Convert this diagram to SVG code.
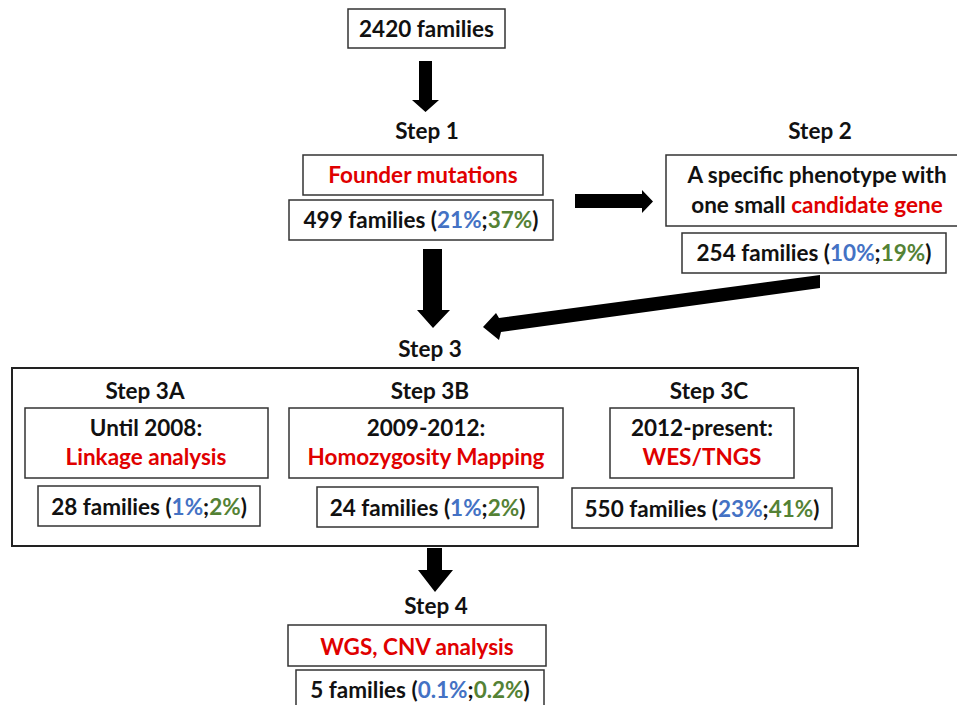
<svg xmlns="http://www.w3.org/2000/svg" width="957" height="705" viewBox="0 0 957 705">
<style>
text{font-family:Lato,"Open Sans","Liberation Sans",sans-serif;font-weight:bold;font-size:22.5px;fill:#111;text-anchor:middle}
.r{fill:#e00000}
.b{fill:#4472c4}
.g{fill:#548235}
.box{fill:#fff;stroke:#333;stroke-width:1.5}
.big{fill:none;stroke:#222;stroke-width:2}
.arr{fill:#000}
</style>
<rect width="957" height="705" fill="#fff"/>
<g id="connectors">
<polygon class="arr" points="419,61 432,61 432,100 439,100 425.5,112 412,100 419,100"/>
<polygon class="arr" points="575,194 642,194 642,190 653,201.5 642,213 642,208 575,208"/>
<polygon class="arr" points="423,249 442,249 442,310 450,310 433,328 417,310 423,310"/>
<polygon class="arr" points="820,275 820,288 501,332 499,340 483,327 496,313 499,318"/>
<polygon class="arr" points="427,548 442,548 442,570 453,570 435,592 418,570 427,570"/>
</g>
<g id="n2420">
<rect class="box" x="348" y="9" width="157" height="39"/>
<text x="426.5" y="37">2420 families</text>
</g>
<g id="step1">
<text x="427" y="139">Step 1</text>
<rect class="box" x="303" y="155" width="240" height="40"/>
<text x="423" y="183"><tspan class="r">Founder mutations</tspan></text>
<rect class="box" x="289" y="200" width="264" height="40"/>
<text x="421" y="228">499 families (<tspan class="b">21%</tspan>;<tspan class="g">37%</tspan>)</text>
</g>
<g id="step2">
<text x="820" y="139">Step 2</text>
<rect class="box" x="666" y="155" width="292" height="71"/>
<text x="817" y="183">A specific phenotype with</text>
<text x="817" y="213">one small <tspan class="r">candidate gene</tspan></text>
<rect class="box" x="682" y="233" width="264" height="40"/>
<text x="814" y="261">254 families (<tspan class="b">10%</tspan>;<tspan class="g">19%</tspan>)</text>
</g>
<g id="step3">
<text x="430" y="357">Step 3</text>
<rect class="big" x="12" y="368" width="846" height="178"/>
</g>
<g id="step3a">
<text x="145" y="399">Step 3A</text>
<rect class="box" x="25" y="408" width="243" height="70"/>
<text x="146" y="436">Until 2008:</text>
<text x="146" y="465" class="r">Linkage analysis</text>
<rect class="box" x="38" y="486" width="222" height="40"/>
<text x="149" y="515">28 families (<tspan class="b">1%</tspan>;<tspan class="g">2%</tspan>)</text>
</g>
<g id="step3b">
<text x="430" y="399">Step 3B</text>
<rect class="box" x="289" y="408" width="274" height="70"/>
<text x="426" y="436">2009-2012:</text>
<text x="426" y="465" class="r">Homozygosity Mapping</text>
<rect class="box" x="317" y="487" width="221" height="40"/>
<text x="427.5" y="516">24 families (<tspan class="b">1%</tspan>;<tspan class="g">2%</tspan>)</text>
</g>
<g id="step3c">
<text x="709" y="399">Step 3C</text>
<rect class="box" x="610" y="408" width="184" height="70"/>
<text x="702" y="436">2012-present:</text>
<text x="702" y="465" class="r">WES/TNGS</text>
<rect class="box" x="572" y="488" width="260" height="40"/>
<text x="702" y="517">550 families (<tspan class="b">23%</tspan>;<tspan class="g">41%</tspan>)</text>
</g>
<g id="step4">
<text x="436" y="614">Step 4</text>
<rect class="box" x="288" y="625" width="258" height="41"/>
<text x="417" y="655" class="r">WGS, CNV analysis</text>
<rect class="box" x="296" y="670" width="248" height="40"/>
<text x="420" y="698">5 families (<tspan class="b">0.1%</tspan>;<tspan class="g">0.2%</tspan>)</text>
</g>
</svg>
